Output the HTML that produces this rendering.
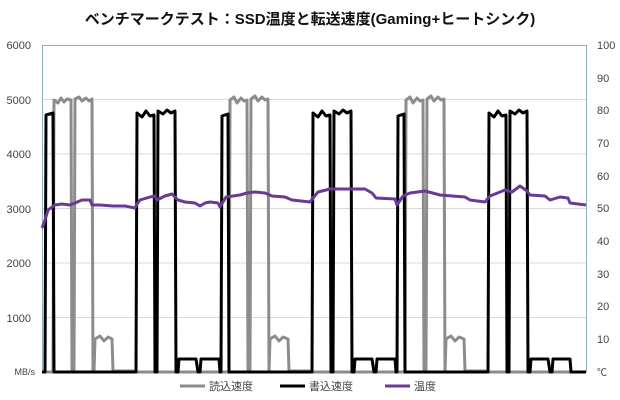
<!DOCTYPE html>
<html><head><meta charset="utf-8"><style>
html,body{margin:0;padding:0;background:#fff;}
svg{display:block;font-family:"Liberation Sans","Noto Sans CJK JP",sans-serif;}
</style></head><body>
<svg width="620" height="400" viewBox="0 0 620 400" xmlns="http://www.w3.org/2000/svg">
<rect width="620" height="400" fill="#fff"/>
<text x="310" y="24" text-anchor="middle" font-size="15" font-weight="bold" fill="#111">ベンチマークテスト：SSD温度と転送速度(Gaming+ヒートシンク)</text>
<g stroke="#d9d9d9" stroke-width="1">
<line x1="42" y1="99.5" x2="586" y2="99.5"/>
<line x1="42" y1="154" x2="586" y2="154"/>
<line x1="42" y1="208.5" x2="586" y2="208.5"/>
<line x1="42" y1="263" x2="586" y2="263"/>
<line x1="42" y1="317.5" x2="586" y2="317.5"/>
</g>
<rect x="42.5" y="45.5" width="544" height="326.5" fill="none" stroke="#8fb0c0" stroke-width="1"/>
<g font-size="11" fill="#444" text-anchor="end">
<text x="31" y="49">6000</text><text x="31" y="104">5000</text><text x="31" y="158">4000</text>
<text x="31" y="213">3000</text><text x="31" y="267">2000</text><text x="31" y="322">1000</text>
<text x="35" y="375" font-size="9">MB/s</text>
</g>
<g font-size="11" fill="#444" text-anchor="start">
<text x="597" y="49">100</text><text x="597" y="82">90</text><text x="597" y="114">80</text>
<text x="597" y="147">70</text><text x="597" y="180">60</text><text x="597" y="212">50</text>
<text x="597" y="245">40</text><text x="597" y="278">30</text><text x="597" y="310">20</text>
<text x="597" y="343">10</text><text x="597" y="376" font-size="10">℃</text>
</g>
<polyline fill="none" stroke="#8c8c8c" stroke-width="3" stroke-linejoin="round" points="42,372 53,372 54,100 58,103 61,98 64,102 67,99 71,100 72,372 74,372 75,99 79,97 82,101 86,98 89,101 92,99 93,372 94,372 95,339 100,336 104,341 108,337 112,339 113,371 135,371 136,372 229,372 230,100 234,97 237,103 241,98 244,101 247,100 248,372 250,372 251,99 255,96 258,101 262,97 265,100 268,99 269,372 270,339 275,336 279,341 283,337 288,339 289,371 312,371 313,372 405,372 406,100 410,97 413,103 417,98 420,101 423,100 424,372 426,372 427,99 431,96 434,101 438,97 441,100 444,99 445,372 446,339 451,336 455,341 459,337 464,339 465,371 488,371 489,372 586,372"/>
<polyline fill="none" stroke="#000" stroke-width="3" stroke-linejoin="round" points="42,372 45,372 46,115 53,113 54,372 136,372 137,113 142,117 146,111 150,116 154,115 155,372 157,372 158,111 163,114 167,110 171,113 175,111 176,372 178,372 179,359 196,359 198,372 200,372 201,359 219,359 220,372 221,372 222,116 228,114 229,372 312,372 313,113 318,117 322,111 326,116 330,115 331,372 333,372 334,111 339,114 343,110 347,113 351,111 352,372 354,372 355,359 372,359 374,372 376,372 377,359 395,359 396,372 397,372 398,116 404,114 405,372 488,372 489,113 494,117 498,111 502,116 506,115 507,372 509,372 510,111 515,114 519,110 523,113 527,111 528,372 530,372 531,359 548,359 550,372 552,372 553,359 570,359 571,372 586,372"/>
<polyline fill="none" stroke="#6a3a96" stroke-width="3" stroke-linejoin="round" points="42,228 45,220 48,210 55,205 62,204 70,205 75,203 82,200 90,200 92,205 100,205 113,206 125,206 135,208 137,204 140,200 150,197 155,196 157,200 165,196 172,194 178,200 185,202 195,203 200,206 205,203 210,202 218,203 220,207 226,197 240,195 247,193 255,192 265,193 272,196 285,197 292,200 310,202 313,198 318,192 330,189 350,189 365,189 372,193 376,198 395,199 397,205 403,196 410,193 425,191 440,195 465,197 470,200 485,202 490,196 505,190 512,192 520,186 527,191 530,195 545,196 550,200 560,197 568,198 570,203 586,205"/>
<line x1="180" y1="386" x2="205" y2="386" stroke="#8c8c8c" stroke-width="3"/>
<text x="209" y="390" font-size="11" fill="#444">読込速度</text>
<line x1="280" y1="386" x2="305" y2="386" stroke="#000" stroke-width="3"/>
<text x="309" y="390" font-size="11" fill="#444">書込速度</text>
<line x1="385" y1="386" x2="410" y2="386" stroke="#6a3a96" stroke-width="3"/>
<text x="414" y="390" font-size="11" fill="#444">温度</text>
</svg>
</body></html>
